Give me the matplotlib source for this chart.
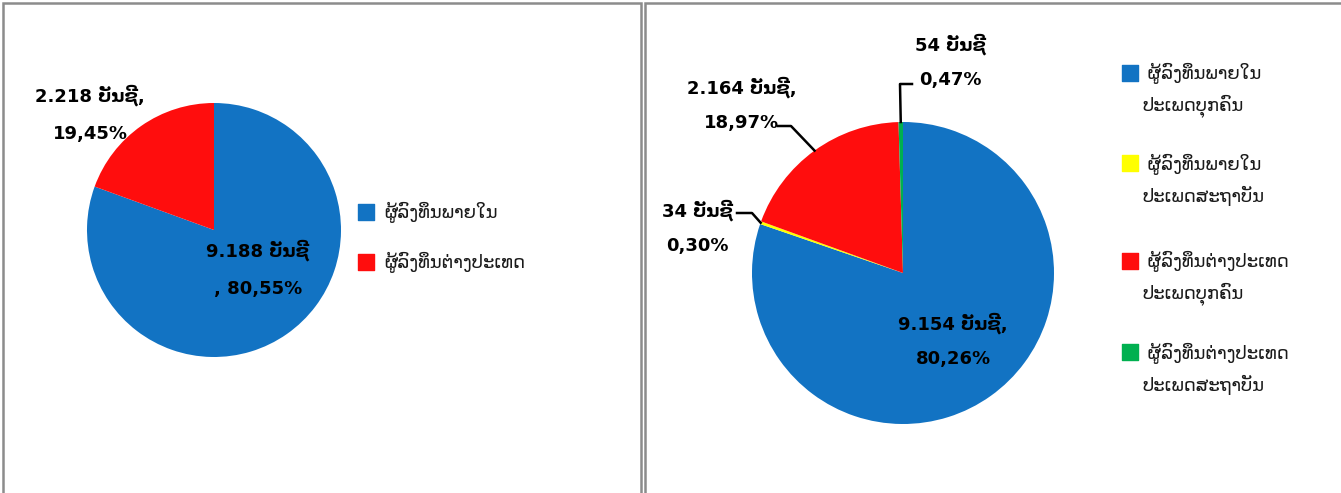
import matplotlib
matplotlib.use("Agg")
import matplotlib.pyplot as plt
from matplotlib.patches import Rectangle
import numpy as np

plt.rcParams['font.family'] = ['DejaVu Sans']

# left chart: investors by origin
left_names = ['ຜູ້ລົງທຶນພາຍໃນ', 'ຜູ້ລົງທຶນຕ່າງປະເທດ']
left_accounts = [9188, 2218]
left_pct = [80.55, 19.45]
left_colors = ['#1273c3', '#ff0d0d']

# right chart: investors by origin and type
right_names = [' ຜູ້ລົງທຶນພາຍໃນ\nປະເພດບຸກຄົນ', ' ຜູ້ລົງທຶນພາຍໃນ\nປະເພດສະຖາບັນ',
               ' ຜູ້ລົງທຶນຕ່າງປະເທດ\nປະເພດບຸກຄົນ', ' ຜູ້ລົງທຶນຕ່າງປະເທດ\nປະເພດສະຖາບັນ']
right_accounts = [9154, 34, 2164, 54]
right_pct = [80.26, 0.30, 18.97, 0.47]
right_colors = ['#1273c3', '#ffff00', '#ff0d0d', '#00b050']

unit = 'ບັນຊີ'

W, H = 1341, 493


def num(n):
    return f"{n:,}".replace(',', '.')


def pct(p):
    return f"{p:.2f}".replace('.', ',') + '%'


def make_axes(fig, x0, x1, cx, cy, r):
    ax = fig.add_axes([x0 / W, 0, (x1 - x0) / W, 1])
    ax.set_axis_off()
    def P(x, y):
        return ((x - cx) / r, (cy - y) / r)
    return ax, P, (P(x0, 0)[0], P(x1, 0)[0]), (P(0, H)[1], P(0, 0)[1])


def wedge_point(w, rad=1.0):
    a = np.deg2rad((w.theta1 + w.theta2) / 2)
    return rad * np.cos(a), rad * np.sin(a)


fig = plt.figure(figsize=(W / 100, H / 100), dpi=100)

# panel frames
for x0, x1 in [(3, 641), (645, 1345)]:
    fig.patches.append(Rectangle((x0 / W, -0.1), (x1 - x0) / W, 1.1 - 3 / H,
                                 transform=fig.transFigure, fill=False,
                                 edgecolor='#8c8c8c', linewidth=1.8))

lab_kw = dict(fontsize=13, fontweight='bold', ha='center', va='center',
              color='black')
leg_kw = dict(fontsize=13, ha='left', va='center', color='#1a1a1a')

# ---- left pie
ax, P, xl, yl = make_axes(fig, 3, 641, 214, 230, 127)
wl, _ = ax.pie(left_accounts, colors=left_colors, startangle=90,
               counterclock=False, radius=1)
ax.set_xlim(*xl)
ax.set_ylim(*yl)
ax.set_aspect('auto')

ax.text(*P(258, 269), f"{num(left_accounts[0])} {unit}\n, {pct(left_pct[0])}",
        linespacing=2.35, **lab_kw)
ax.text(*P(90, 114), f"{num(left_accounts[1])} {unit},\n{pct(left_pct[1])}",
        linespacing=2.35, **lab_kw)

for i, (name, c) in enumerate(zip(left_names, left_colors)):
    y = 212 + i * 50
    ax.scatter(*P(366, y), marker='s', s=130, color=c, clip_on=False)
    ax.text(*P(384, y), name, **leg_kw)

# ---- right pie
ax, P, xl, yl = make_axes(fig, 645, 1341, 903, 273, 151)
wr, _ = ax.pie(right_accounts, colors=right_colors, startangle=90,
               counterclock=False, radius=1)
ax.set_xlim(*xl)
ax.set_ylim(*yl)
ax.set_aspect('auto')

rl_kw = dict(linespacing=2.1, **lab_kw)
ax.text(*P(953, 340), f"{num(right_accounts[0])} {unit},\n{pct(right_pct[0])}", **rl_kw)
ax.text(*P(697, 227), f"{num(right_accounts[1])} {unit}\n{pct(right_pct[1])}", **rl_kw)
ax.text(*P(742, 104), f"{num(right_accounts[2])} {unit},\n{pct(right_pct[2])}", **rl_kw)
ax.text(*P(950, 61), f"{num(right_accounts[3])} {unit}\n{pct(right_pct[3])}", **rl_kw)

# leader lines
elbows = {1: [(752, 213), (737, 213)], 2: [(791, 126), (778, 126)],
          3: [(900, 84), (912, 84)]}
for i, pts in elbows.items():
    x0, y0 = wedge_point(wr[i])
    xs = [x0] + [P(*p)[0] for p in pts]
    ys = [y0] + [P(*p)[1] for p in pts]
    ax.plot(xs, ys, color='black', lw=1.8, clip_on=False)

for i, (name, c) in enumerate(zip(right_names, right_colors)):
    y = [73, 163, 261, 352][i]
    ax.scatter(*P(1130, y), marker='s', s=130, color=c, clip_on=False)
    ax.text(*P(1142, y + 17), name, linespacing=1.65, **leg_kw)

fig.savefig('out.png', dpi=100)
